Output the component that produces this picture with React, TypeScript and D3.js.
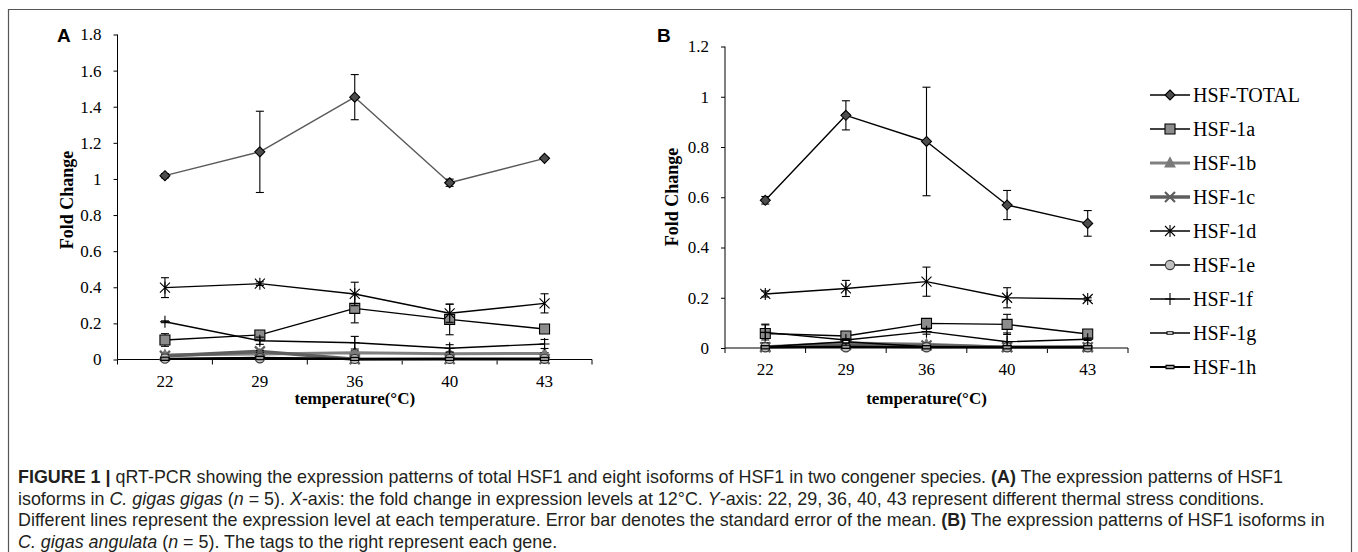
import React, { useEffect, useRef } from 'react';
import * as d3 from 'd3';

// categories and series
const temps = ['22', '29', '36', '40', '43'];
const seriesNames = ['HSF-TOTAL', 'HSF-1a', 'HSF-1b', 'HSF-1c', 'HSF-1d', 'HSF-1e', 'HSF-1f', 'HSF-1g', 'HSF-1h'];

// panel A (C. gigas gigas), one row per series
const meansA = [
  [1.018, 1.15, 1.453, 0.979, 1.114],
  [0.108, 0.136, 0.283, 0.222, 0.169],
  [0.025, 0.03, 0.038, 0.032, 0.033],
  [0.02, 0.045, 0.002, 0.003, 0.003],
  [0.398, 0.42, 0.363, 0.256, 0.311],
  [0.005, 0.007, 0.003, 0.003, 0.004],
  [0.209, 0.104, 0.093, 0.062, 0.086],
  [0.005, 0.012, 0.004, 0.004, 0.004],
  [0.004, 0.008, 0.003, 0.003, 0.003],
];
const errorsA = [
  [0.012, 0.225, 0.125, 0.02, 0.005],
  [0.035, 0.005, 0.08, 0.085, 0.005],
  [0.005, 0.005, 0.01, 0.005, 0.005],
  [0.005, 0.005, 0.002, 0.002, 0.002],
  [0.055, 0.01, 0.065, 0.05, 0.053],
  [0.002, 0.002, 0.002, 0.002, 0.002],
  [0.005, 0.02, 0.035, 0.02, 0.025],
  [0.002, 0.002, 0.002, 0.002, 0.002],
  [0.002, 0.002, 0.002, 0.002, 0.002],
];

// panel B (C. gigas angulata)
const meansB = [
  [0.588, 0.926, 0.822, 0.569, 0.496],
  [0.058, 0.048, 0.098, 0.094, 0.056],
  [0.005, 0.02, 0.015, 0.003, 0.005],
  [0.003, 0.012, 0.01, 0.003, 0.003],
  [0.215, 0.237, 0.264, 0.2, 0.195],
  [0.003, 0.003, 0.003, 0.003, 0.003],
  [0.062, 0.032, 0.065, 0.025, 0.035],
  [0.005, 0.025, 0.005, 0.003, 0.003],
  [0.003, 0.005, 0.003, 0.003, 0.003],
];
const errorsB = [
  [0.015, 0.058, 0.216, 0.058, 0.051],
  [0.037, 0.005, 0.01, 0.04, 0.005],
  [0.003, 0.005, 0.005, 0.002, 0.002],
  [0.002, 0.003, 0.003, 0.002, 0.002],
  [0.012, 0.032, 0.058, 0.04, 0.005],
  [0.002, 0.002, 0.002, 0.002, 0.002],
  [0.03, 0.005, 0.01, 0.035, 0.005],
  [0.002, 0.005, 0.002, 0.002, 0.002],
  [0.002, 0.002, 0.002, 0.002, 0.002],
];

const ticksA = [0, 0.2, 0.4, 0.6, 0.8, 1, 1.2, 1.4, 1.6, 1.8];
const ticksB = [0, 0.2, 0.4, 0.6, 0.8, 1, 1.2];

type Seg = [string, '' | 'b' | 'i'];
const captionLines: Seg[][] = [
  [['FIGURE 1 | ', 'b'], ['qRT-PCR showing the expression patterns of total HSF1 and eight isoforms of HSF1 in two congener species. ', ''], ['(A)', 'b'], [' The expression patterns of HSF1', '']],
  [['isoforms in ', ''], ['C. gigas gigas', 'i'], [' (', ''], ['n', 'i'], [' = 5). ', ''], ['X', 'i'], ['-axis: the fold change in expression levels at 12°C. ', ''], ['Y', 'i'], ['-axis: 22, 29, 36, 40, 43 represent different thermal stress conditions.', '']],
  [['Different lines represent the expression level at each temperature. Error bar denotes the standard error of the mean. ', ''], ['(B)', 'b'], [' The expression patterns of HSF1 isoforms in', '']],
  [['C. gigas angulata', 'i'], [' (', ''], ['n', 'i'], [' = 5). The tags to the right represent each gene.', '']],
];

const seriesStyle = [
  { line: '#000', width: 1.4, marker: 'diamond', fill: '#4d4d4d', stroke: '#000' },
  { line: '#000', width: 1.4, marker: 'square', fill: '#8c8c8c', stroke: '#000' },
  { line: '#808080', width: 3, marker: 'triangle', fill: '#7a7a7a', stroke: '#7a7a7a' },
  { line: '#5e5e5e', width: 3.5, marker: 'x', fill: 'none', stroke: '#5e5e5e' },
  { line: '#000', width: 1.4, marker: 'asterisk', fill: 'none', stroke: '#000' },
  { line: '#000', width: 1.4, marker: 'circle', fill: '#c0c0c0', stroke: '#3a3a3a' },
  { line: '#000', width: 1.4, marker: 'plus', fill: 'none', stroke: '#000' },
  { line: '#000', width: 1.4, marker: 'dash', fill: '#fff', stroke: '#000' },
  { line: '#000', width: 1.8, marker: 'bar', fill: '#999', stroke: '#000' },
];

const markerPath = (m: string) => {
  switch (m) {
    case 'diamond': return 'M0,-5L5,0L0,5L-5,0Z';
    case 'square': return 'M-5,-5H5V5H-5Z';
    case 'triangle': return 'M0,-5.5L5,4L-5,4Z';
    case 'x': return 'M-5,-5L5,5M-5,5L5,-5';
    case 'asterisk': return 'M-5,-5L5,5M-5,5L5,-5M0,-6V6';
    case 'circle': return 'M4.6,0A4.6,4.6 0 1,1 -4.6,0A4.6,4.6 0 1,1 4.6,0Z';
    case 'plus': return 'M0,-6V6M-5,0H5';
    case 'dash': return 'M-3,-1.2H3V1.2H-3Z';
    default: return 'M-4,-1.6H4V1.6H-4Z';
  }
};

const SERIF = "'Liberation Serif', 'Times New Roman', serif";
const SANS = "'Liberation Sans', Arial, sans-serif";

const App: React.FC = () => {
  const svgRef = useRef<SVGSVGElement>(null);

  useEffect(() => {
    if (!svgRef.current) return;
    document.body.style.margin = '0';
    const svg = d3.select(svgRef.current);
    svg.selectAll('*').remove();

    // figure frame
    svg.append('path')
      .attr('d', 'M8.5,560V9.5H1351.5V560')
      .attr('fill', 'none')
      .attr('stroke', '#555')
      .attr('stroke-width', 1.2);

    const panels = [
      { means: meansA, errs: errorsA, ticks: ticksA, max: 1.8, xr: [117.5, 592], yr: [359.5, 34.5], tag: 'A', tagX: 57, titleX: 73, titleY: 200, totalColor: '#595959' },
      { means: meansB, errs: errorsB, ticks: ticksB, max: 1.2, xr: [725, 1128], yr: [348, 46.5], tag: 'B', tagX: 657, titleX: 678, titleY: 197, totalColor: '#000' },
    ];

    panels.forEach(p => {
      const g = svg.append('g');
      const x = d3.scaleBand<string>().domain(temps).range(p.xr as [number, number]).padding(0);
      const y = d3.scaleLinear().domain([0, p.max]).range(p.yr as [number, number]);
      const cx = (t: string) => (x(t) as number) + x.bandwidth() / 2;

      // y axis
      const ya = g.append('g')
        .attr('transform', `translate(${p.xr[0]},0)`)
        .call(d3.axisLeft(y).tickValues(p.ticks).tickSize(4).tickSizeOuter(0).tickPadding(12).tickFormat(d3.format('~g') as any));
      ya.select('.domain').remove();
      ya.selectAll('line').attr('stroke', '#000');
      ya.selectAll('text').attr('font-family', SERIF).attr('font-size', 17).attr('fill', '#000');
      g.append('line')
        .attr('x1', p.xr[0]).attr('x2', p.xr[0])
        .attr('y1', y(p.max)).attr('y2', y(0))
        .attr('stroke', '#000');

      // x axis: labels at band centres, ticks at band edges
      const xa = g.append('g')
        .attr('transform', `translate(0,${y(0)})`)
        .call(d3.axisBottom(x).tickSize(0).tickPadding(15));
      xa.select('.domain').remove();
      xa.selectAll('text').attr('font-family', SERIF).attr('font-size', 17).attr('fill', '#000');
      g.append('line')
        .attr('x1', p.xr[0]).attr('x2', p.xr[1])
        .attr('y1', y(0)).attr('y2', y(0))
        .attr('stroke', '#000');
      const edges = temps.map(t => x(t) as number).concat([p.xr[1]]);
      g.selectAll('line.edge').data(edges).join('line')
        .attr('class', 'edge')
        .attr('x1', d => d).attr('x2', d => d)
        .attr('y1', y(0)).attr('y2', y(0) + 5)
        .attr('stroke', '#000');

      // titles
      g.append('text')
        .attr('x', cx('36')).attr('y', 404)
        .attr('text-anchor', 'middle')
        .attr('font-family', SERIF).attr('font-size', 17).attr('font-weight', 'bold')
        .text('temperature(°C)');
      g.append('text')
        .attr('transform', `translate(${p.titleX},${p.titleY}) rotate(-90)`)
        .attr('text-anchor', 'middle')
        .attr('font-family', SERIF).attr('font-size', 18).attr('font-weight', 'bold')
        .text('Fold Change');
      g.append('text')
        .attr('x', p.tagX).attr('y', 42)
        .attr('font-family', SANS).attr('font-size', 19).attr('font-weight', 'bold')
        .text(p.tag);

      // series
      p.means.forEach((vals, si) => {
        const st = seriesStyle[si];
        const lineColor = si === 0 ? p.totalColor : st.line;
        const line = d3.line<number>().x((_, i) => cx(temps[i])).y(v => y(v));
        g.append('path')
          .attr('d', line(vals) as string)
          .attr('fill', 'none')
          .attr('stroke', lineColor)
          .attr('stroke-width', st.width)
          .attr('stroke-linejoin', 'round');

        // error bars
        const eg = g.append('g').attr('stroke', '#000').attr('stroke-width', 1.1);
        vals.forEach((v, i) => {
          const e = p.errs[si][i];
          const xc = cx(temps[i]);
          const yt = y(v + e), yb = y(Math.max(0, v - e));
          eg.append('line').attr('x1', xc).attr('x2', xc).attr('y1', yt).attr('y2', yb);
          eg.append('line').attr('x1', xc - 4).attr('x2', xc + 4).attr('y1', yt).attr('y2', yt);
          eg.append('line').attr('x1', xc - 4).attr('x2', xc + 4).attr('y1', yb).attr('y2', yb);
        });

        g.selectAll(`path.m${si}`).data(vals).join('path')
          .attr('class', `m${si}`)
          .attr('transform', (v, i) => `translate(${cx(temps[i])},${y(v)})`)
          .attr('d', markerPath(st.marker))
          .attr('fill', st.fill)
          .attr('stroke', st.stroke)
          .attr('stroke-width', st.marker === 'x' ? 2.2 : 1.1);
      });
    });

    // legend
    const lg = svg.append('g');
    seriesNames.forEach((name, i) => {
      const st = seriesStyle[i];
      const ly = 95 + i * 34;
      lg.append('line')
        .attr('x1', 1150).attr('x2', 1190).attr('y1', ly).attr('y2', ly)
        .attr('stroke', st.line).attr('stroke-width', st.width);
      lg.append('path')
        .attr('transform', `translate(1170,${ly})`)
        .attr('d', markerPath(st.marker))
        .attr('fill', st.fill).attr('stroke', st.stroke)
        .attr('stroke-width', st.marker === 'x' ? 2.2 : 1.1);
      lg.append('text')
        .attr('x', 1193).attr('y', ly + 7)
        .attr('font-family', SERIF).attr('font-size', 20)
        .text(name);
    });

    // caption: one horizontal squeeze for all lines (condensed look), longest line ~1311px
    const caps = captionLines.map((segs, li) => {
      const t = svg.append('text')
        .attr('font-family', SANS).attr('font-size', 18.5).attr('fill', '#231f20');
      segs.forEach(([s, f]) => {
        t.append('tspan')
          .attr('font-weight', f === 'b' ? 'bold' : null)
          .attr('font-style', f === 'i' ? 'italic' : null)
          .text(s);
      });
      return { t, y: 483 + li * 21.5 };
    });
    const w2 = (caps[2].t.node() as SVGTextElement).getComputedTextLength() || 1311;
    const k = 1308 / w2;
    caps.forEach(c => c.t.attr('transform', `translate(18,${c.y}) scale(${k},1)`));
  }, []);

  return (
    <svg ref={svgRef} width={1358} height={552}
      style={{ position: 'absolute', left: 0, top: 0, background: '#fff', display: 'block' }} />
  );
};

export default App;
